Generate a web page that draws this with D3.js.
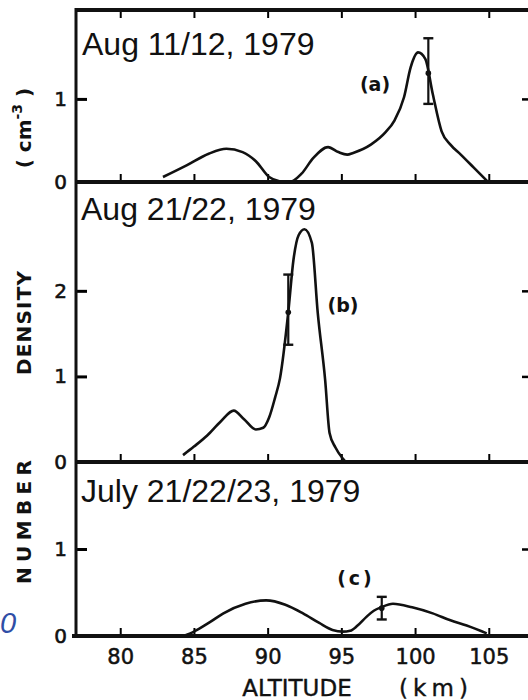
<!DOCTYPE html>
<html>
<head>
<meta charset="utf-8">
<script src="https://cdn.jsdelivr.net/npm/d3@7"></script>
<style>
  body { margin: 0; background: #fff; }
  svg { display: block; }
</style>
</head>
<body>
<div id="chart"></div>
<script>

// altitude (km) / number density (cm^-3)
const altA = [82.9, 84.5, 86.0, 87.2, 88.3, 89.2, 90.1, 90.8, 91.5, 92.3, 93.1, 94.1, 94.8, 95.4, 95.8, 97.0, 98.0, 98.6, 99.25, 99.7, 100.2, 100.7, 101.2, 101.8, 102.4, 103.1, 104.0, 104.95];
const denA = [0.06, 0.2, 0.34, 0.40, 0.36, 0.25, 0.06, 0.01, 0.0, 0.1, 0.29, 0.42, 0.36, 0.33, 0.35, 0.45, 0.6, 0.74, 1.02, 1.38, 1.56, 1.48, 1.06, 0.61, 0.45, 0.33, 0.17, 0.0];

const altB = [84.26, 85.0, 85.9, 86.8, 87.7, 88.4, 89.2, 89.7, 90.1, 90.5, 90.84, 91.4, 91.75, 92.1, 92.5, 93.0, 93.4, 93.9, 94.2, 94.6, 95.1, 95.3];
const denB = [0.08, 0.18, 0.31, 0.47, 0.60, 0.50, 0.38, 0.40, 0.52, 0.75, 0.98, 1.75, 2.36, 2.65, 2.72, 2.56, 1.74, 0.96, 0.34, 0.17, 0.04, 0.0];

const altC = [84.3, 85.0, 86.0, 87.0, 88.5, 89.9, 91.2, 92.4, 93.5, 94.4, 95.1, 95.6, 96.1, 96.7, 97.2, 97.7, 98.5, 99.8, 101.2, 102.4, 103.5, 104.86];
const denC = [0.0, 0.05, 0.15, 0.26, 0.37, 0.41, 0.36, 0.26, 0.15, 0.07, 0.05, 0.06, 0.12, 0.22, 0.29, 0.33, 0.37, 0.33, 0.26, 0.18, 0.12, 0.03];

// one error bar per panel (a, b, c)
const errAlt = [100.9, 91.4, 97.74];
const errVal = [1.31, 1.75, 0.32];
const errLo = [0.94, 1.37, 0.19];
const errHi = [1.73, 2.19, 0.45];

const panelNames = ["Aug 11/12, 1979", "Aug 21/22, 1979", "July 21/22/23, 1979"];
const panelLetters = ["(a)", "(b)", "(c)"];
const altitudeTicks = [80, 85, 90, 95, 100, 105];
const densityTicks = [[0, 1], [0, 1, 2], [0, 1]];
const densityMax = [2.07, 3.26, 2.0];

const width = 528, height = 700;

const svg = d3.select("#chart")
    .append("svg")
    .attr("width", width)
    .attr("height", height);

const x = d3.scaleLinear()
    .domain([77, 108])
    .range([76, 533]);

// panel frames: [top, zero line]
const frames = [[10, 182], [183, 462], [462, 636]];
const series = [[altA, denA], [altB, denB], [altC, denC]];
const letterPos = [[375, 85], [343, 306], [356, 579]];
const namePos = [[82, 55], [81, 220], [81, 502]];

const tickFont = "'DejaVu Sans', sans-serif";

frames.forEach(([top, zero], i) => {

    const y = d3.scaleLinear()
        .domain([0, densityMax[i]])
        .range([zero, top]);

    const g = svg.append("g");

    // upward ticks on the zero line
    const zeroAxis = g.append("g")
        .attr("transform", `translate(0,${zero})`)
        .call(d3.axisTop(x).tickValues(altitudeTicks).tickSize(8).tickSizeOuter(0).tickFormat(""));
    zeroAxis.select(".domain").remove();
    zeroAxis.selectAll("line").attr("stroke-width", 2);

    // left axis with inward ticks
    const left = g.append("g")
        .attr("transform", "translate(76,0)")
        .call(d3.axisLeft(y).tickValues(densityTicks[i]).tickFormat(d3.format("d"))
            .tickSize(-11).tickPadding(9));
    left.select(".domain").remove();
    left.selectAll("line").attr("stroke-width", 3);
    left.selectAll("text")
        .attr("font-family", tickFont)
        .attr("font-size", 20)
        .attr("fill", "#111")
        .attr("stroke", "#111")
        .attr("stroke-width", 0.6);

    // small ticks on the right edge
    const right = g.append("g")
        .attr("transform", "translate(529,0)")
        .call(d3.axisLeft(y).tickValues(densityTicks[i].filter(v => v > 0)).tickSize(7).tickFormat(""));
    right.select(".domain").remove();
    right.selectAll("line").attr("stroke-width", 2.5);

    // curve
    const line = d3.line()
        .x(d => x(d[0]))
        .y(d => y(d[1]))
        .curve(d3.curveMonotoneX);

    g.append("path")
        .datum(d3.zip(series[i][0], series[i][1]))
        .attr("d", line)
        .attr("fill", "none")
        .attr("stroke", "#111")
        .attr("stroke-width", 2.6)
        .attr("stroke-linejoin", "round");

    // error bar
    const ex = x(errAlt[i]);
    g.append("line")
        .attr("x1", ex).attr("x2", ex)
        .attr("y1", y(errLo[i])).attr("y2", y(errHi[i]))
        .attr("stroke", "#111").attr("stroke-width", 2.2);
    [errLo[i], errHi[i]].forEach(v => {
        g.append("line")
            .attr("x1", ex - 5).attr("x2", ex + 5)
            .attr("y1", y(v)).attr("y2", y(v))
            .attr("stroke", "#111").attr("stroke-width", 2.4);
    });
    g.append("circle")
        .attr("cx", ex).attr("cy", y(errVal[i]))
        .attr("r", 2.8)
        .attr("fill", "#111");

    // zero line
    g.append("line")
        .attr("x1", i === 2 ? 72 : 76).attr("x2", 530)
        .attr("y1", zero).attr("y2", zero)
        .attr("stroke", "#111").attr("stroke-width", 4);

    // panel letter
    g.append("text")
        .attr("x", letterPos[i][0])
        .attr("y", letterPos[i][1])
        .attr("text-anchor", "middle")
        .attr("dominant-baseline", "middle")
        .attr("font-family", tickFont)
        .attr("font-size", 19)
        .attr("font-weight", "bold")
        .attr("letter-spacing", i === 2 ? 3 : 0)
        .attr("fill", "#111")
        .text(panelLetters[i]);

    // date label
    g.append("text")
        .attr("x", namePos[i][0])
        .attr("y", namePos[i][1])
        .attr("font-family", "'Liberation Sans', Arial, sans-serif")
        .attr("font-size", 32)
        .attr("fill", "#111")
        .text(panelNames[i]);
});

// top border with downward ticks
const topAxis = svg.append("g")
    .attr("transform", "translate(0,10)")
    .call(d3.axisBottom(x).tickValues(altitudeTicks).tickSize(8).tickSizeOuter(0).tickFormat(""));
topAxis.select(".domain").remove();
topAxis.selectAll("line").attr("stroke-width", 2);
svg.append("line")
    .attr("x1", 75).attr("x2", 530)
    .attr("y1", 10).attr("y2", 10)
    .attr("stroke", "#111").attr("stroke-width", 4);

// left frame line
svg.append("line")
    .attr("x1", 76).attr("x2", 76)
    .attr("y1", 8).attr("y2", 638)
    .attr("stroke", "#111").attr("stroke-width", 3);

// altitude labels under the bottom panel
const bottomAxis = svg.append("g")
    .attr("transform", "translate(0,636)")
    .call(d3.axisBottom(x).tickValues(altitudeTicks).tickSize(0).tickPadding(13));
bottomAxis.select(".domain").remove();
bottomAxis.selectAll("text")
    .attr("font-family", tickFont)
    .attr("font-size", 21)
    .attr("fill", "#111")
    .attr("stroke", "#111")
    .attr("stroke-width", 0.5);

svg.append("text")
    .attr("x", 297)
    .attr("y", 696)
    .attr("text-anchor", "middle")
    .attr("font-family", tickFont)
    .attr("font-size", 23)
    .attr("fill", "#111")
    .attr("stroke", "#111")
    .attr("stroke-width", 0.4)
    .text("ALTITUDE");

svg.append("text")
    .attr("x", 399)
    .attr("y", 696)
    .attr("font-family", tickFont)
    .attr("font-size", 23)
    .attr("textLength", 69)
    .attr("lengthAdjust", "spacing")
    .attr("fill", "#111")
    .attr("stroke", "#111")
    .attr("stroke-width", 0.4)
    .text("(km)");

// y title, rotated
const yTitle = [["NUMBER", 522, 124], ["DENSITY", 323, 104]];
yTitle.forEach(([t, cy, len]) => {
    svg.append("text")
        .attr("transform", `translate(31,${cy}) rotate(-90)`)
        .attr("text-anchor", "middle")
        .attr("font-family", tickFont)
        .attr("font-weight", "bold")
        .attr("font-size", 20)
        .attr("textLength", len)
        .attr("lengthAdjust", "spacing")
        .attr("fill", "#111")
        .text(t);
});

const unit = svg.append("text")
    .attr("transform", "translate(31,128) rotate(-90)")
    .attr("text-anchor", "middle")
    .attr("font-family", tickFont)
    .attr("font-weight", "bold")
    .attr("font-size", 20)
    .attr("fill", "#111");
unit.append("tspan").text("( cm");
unit.append("tspan").attr("dy", -9).attr("font-size", 14).text("-3");
unit.append("tspan").attr("dy", 9).text(" )");

// stray blue digit at the left edge of the scan
svg.append("text")
    .attr("x", 0)
    .attr("y", 633)
    .attr("font-family", "'Liberation Sans', Arial, sans-serif")
    .attr("font-style", "italic")
    .attr("font-size", 29)
    .attr("fill", "#2f4ea6")
    .text("0");

</script>
</body>
</html>
